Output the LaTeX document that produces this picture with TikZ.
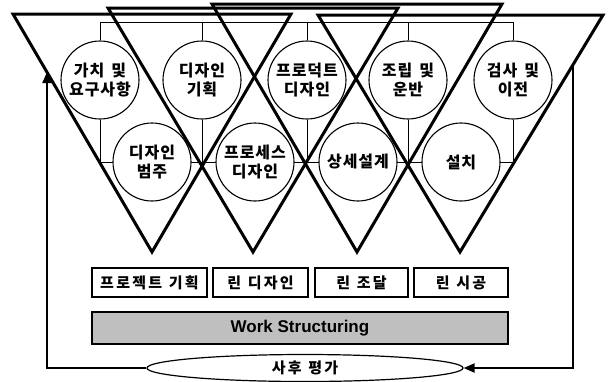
\documentclass[tikz,border=0pt]{standalone}
\usepackage{fontspec}
\newfontfamily\kr[LetterSpace=6]{Noto Sans CJK KR}
\newfontfamily\krw[LetterSpace=15]{Noto Sans CJK KR}
\newfontfamily\ws{Liberation Sans}
\usetikzlibrary{shapes.geometric,arrows.meta}
\newcommand{\krgap}{\hspace{0.45em}}
\begin{document}
\begin{tikzpicture}[x=1pt,y=-1pt,
  circ/.style={circle, draw, line width=1.1pt, fill=white, minimum size=78pt, inner sep=0pt, align=center, font=\kr\bfseries\fontsize{16}{19.5}\selectfont},
  tri/.style={line width=3pt, line join=miter},
  conn/.style={line width=0.9pt},
  lbox/.style={draw, line width=1.4pt, minimum height=29pt, inner sep=0pt, font=\krw\bfseries\fontsize{15}{17}\selectfont},
  loopline/.style={line width=2pt, -{Triangle[length=11pt,width=9pt]}}
]
\useasboundingbox (0,0) rectangle (609,381);
% connector bars
\coordinate (tb1) at (100,22); \coordinate (tb2) at (202,22); \coordinate (tb3) at (307,22);
\coordinate (tb4) at (408,22); \coordinate (tb5) at (513,22);
\coordinate (lb1) at (100,162); \coordinate (lb2) at (202,162); \coordinate (lb3) at (307,162);
\coordinate (lb4) at (408,162); \coordinate (lb5) at (513,162);
\draw[conn] (tb1) -- (tb5);
\draw[conn] (lb1) -- (lb5);
% top circles
\node[circ] (c1) at (100,80) {가치\krgap 및\\요구사항};
\node[circ] (c2) at (202,80) {디자인\\기획};
\node[circ] (c3) at (307,80) {프로덕트\\디자인};
\node[circ] (c4) at (408,80) {조립\krgap 및\\운반};
\node[circ] (c5) at (513,80) {검사\krgap 및\\이전};
\foreach \i in {1,...,5}{
  \draw[conn] (tb\i) -- (c\i.north);
  \draw[conn] (c\i.south) -- (lb\i);
}
% bottom circles
\node[circ] (d1) at (152,162) {디자인\\범주};
\node[circ] (d2) at (255,162) {프로세스\\디자인};
\node[circ] (d3) at (358,162) {상세설계};
\node[circ] (d4) at (461,162) {설치};
% triangles
\draw[tri] (13,14) -- (291,14) -- (152,252) -- cycle;
\draw[tri] (108,8) -- (398,8) -- (253,252) -- cycle;
\draw[tri] (212,4) -- (502,4) -- (357,252) -- cycle;
\draw[tri] (318,15) -- (603,15) -- (460,252) -- cycle;
% boxes
\node[lbox, minimum width=115pt] (p1) at (149.5,282.5) {프로젝트\krgap 기획};
\node[lbox, minimum width=95pt] (p2) at (260.5,282.5) {린\krgap 디자인};
\node[lbox, minimum width=93pt] (p3) at (361.5,282.5) {린\krgap 조달};
\node[lbox, minimum width=94pt] (p4) at (461,282.5) {린\krgap 시공};
% work structuring
\node[draw, line width=1.4pt, fill=black!25, minimum width=416pt, minimum height=32pt, inner sep=0pt,
  font=\ws\bfseries\fontsize{17}{19}\selectfont] (wsb) at (300,328) {Work Structuring};
% ellipse
\node[ellipse, draw, line width=1.2pt, fill=white, minimum width=316pt, minimum height=27pt, inner sep=0pt,
  font=\krw\bfseries\fontsize{15}{17}\selectfont] (ev) at (305,368) {사후\krgap 평가};
% loop arrows
\coordinate (la) at (47,72);
\coordinate (ra) at (573,65);
\draw[loopline] (ev.west) -| (la);
\draw[loopline] (ra) |- (ev.east);
\end{tikzpicture}
\end{document}
